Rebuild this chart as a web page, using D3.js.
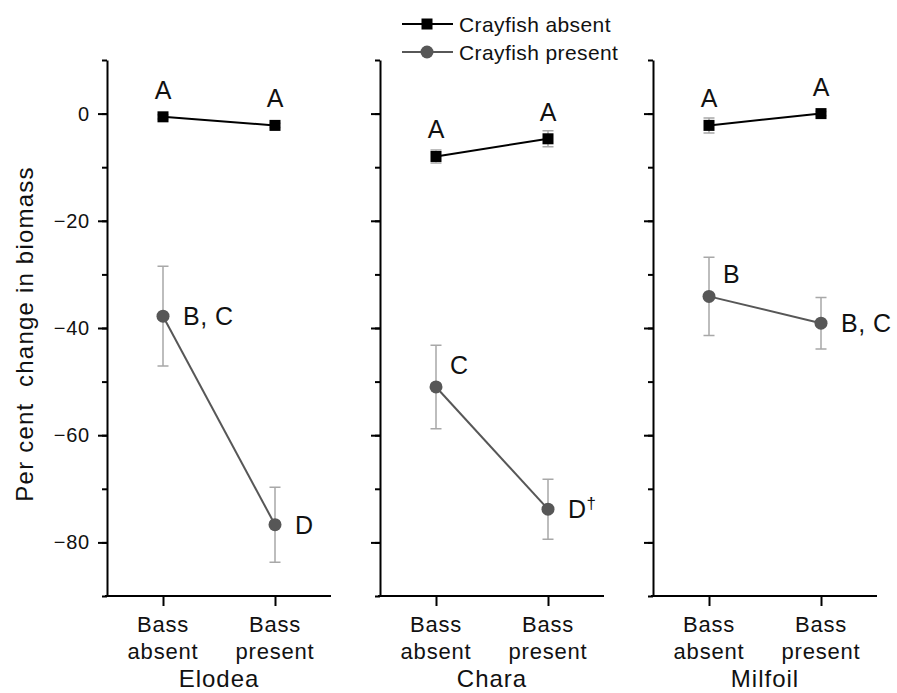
<!DOCTYPE html>
<html>
<head>
<meta charset="utf-8">
<script src="https://cdn.jsdelivr.net/npm/d3@7"></script>
<style>
  body { margin: 0; background: #fff; }
  text { font-family: "Liberation Sans", Arial, sans-serif; fill: #111; }
</style>
</head>
<body>
<div id="chart"></div>
<script>
const plants = ['Elodea', 'Chara', 'Milfoil'];
const bassLevels = ['Bass absent', 'Bass present'];
const seriesNames = ['Crayfish absent', 'Crayfish present'];

// mean and standard error, one row per plant, [bass absent, bass present]
const absentMean = [[-0.6, -2.2], [-8.0, -4.7], [-2.2, 0.0]];
const absentErr = [[0.4, 0.4], [1.2, 1.5], [1.4, 0.4]];
const presentMean = [[-37.8, -76.7], [-51.0, -73.8], [-34.1, -39.1]];
const presentErr = [[9.3, 7.0], [7.8, 5.6], [7.3, 4.8]];

const absentLabels = [['A', 'A'], ['A', 'A'], ['A', 'A']];
const presentLabels = [['B, C', 'D'], ['C', 'D†'], ['B', 'B, C']];
const presentLabelSide = [['right', 'right'], ['above', 'right'], ['above', 'right']];

const yTicks = d3.range(-90, 11, 10);
const yLabelTicks = [-80, -60, -40, -20, 0];

const width = 897, height = 693;
const panelW = 224, gap = 49, left0 = 107;
const plotTop = 60, plotBottom = 596;

const svg = d3.select('#chart').append('svg')
  .attr('width', width)
  .attr('height', height);

const y = d3.scaleLinear().domain([-90, 10]).range([plotBottom, plotTop]);

const colAbsent = '#000';
const colPresent = '#575757';
const colErr = '#a8a8a8';

plants.forEach((plant, p) => {
  let x0 = left0 + p * (panelW + gap);
  let x = d3.scalePoint().domain(bassLevels).range([x0, x0 + panelW]).padding(0.5);

  let g = svg.append('g');

  // minor ticks
  g.append('g')
    .attr('transform', `translate(${x0},0)`)
    .call(d3.axisLeft(y).tickValues(yTicks).tickSize(5).tickSizeOuter(0).tickFormat(''))
    .call(a => a.selectAll('path, line').attr('stroke', '#000').attr('stroke-width', 2));

  // major ticks + labels on first panel
  let major = g.append('g')
    .attr('transform', `translate(${x0},0)`)
    .call(d3.axisLeft(y).tickValues(yLabelTicks).tickSize(9).tickSizeOuter(0)
      .tickFormat(p === 0 ? d3.format('d') : ''));
  major.select('.domain').remove();
  major.selectAll('line').attr('stroke', '#000').attr('stroke-width', 2);
  major.selectAll('text')
    .attr('font-size', 20)
    .attr('font-family', '"Liberation Sans", Arial, sans-serif')
    .attr('letter-spacing', 0.8)
    .attr('fill', '#111')
    .attr('x', -17);

  // x axis
  let xa = g.append('g')
    .attr('transform', `translate(0,${plotBottom})`)
    .call(d3.axisBottom(x).tickSize(10).tickSizeOuter(0).tickFormat(''));
  xa.select('.domain').attr('d', `M${x0 - 2},0H${x0 + panelW}`);
  xa.selectAll('path, line').attr('stroke', '#000').attr('stroke-width', 2);

  bassLevels.forEach(b => {
    let words = b.split(' ');
    let t = g.append('text')
      .attr('text-anchor', 'middle')
      .attr('letter-spacing', 0.8)
      .attr('font-size', 22);
    t.append('tspan').attr('x', x(b)).attr('y', 632).text(words[0]);
    t.append('tspan').attr('x', x(b)).attr('y', 659).text(words[1]);
  });

  g.append('text')
    .attr('x', x0 + panelW / 2)
    .attr('y', 687)
    .attr('text-anchor', 'middle')
    .attr('letter-spacing', 1)
    .attr('font-size', 24)
    .text(plant);

  let abs = bassLevels.map((b, i) => ({ b, m: absentMean[p][i], e: absentErr[p][i], lab: absentLabels[p][i] }));
  let pre = bassLevels.map((b, i) => ({ b, m: presentMean[p][i], e: presentErr[p][i], lab: presentLabels[p][i], side: presentLabelSide[p][i] }));

  const line = d3.line().x(d => x(d.b)).y(d => y(d.m));

  // error bars
  [abs, pre].forEach(series => {
    series.forEach(d => {
      let cx = x(d.b);
      g.append('path')
        .attr('d', `M${cx},${y(d.m + d.e)}V${y(d.m - d.e)}M${cx - 5.5},${y(d.m + d.e)}h11M${cx - 5.5},${y(d.m - d.e)}h11`)
        .attr('stroke', colErr)
        .attr('stroke-width', 1.5)
        .attr('fill', 'none');
    });
  });

  g.append('path').datum(abs)
    .attr('d', line)
    .attr('fill', 'none')
    .attr('stroke', colAbsent)
    .attr('stroke-width', 2);

  g.append('path').datum(pre)
    .attr('d', line)
    .attr('fill', 'none')
    .attr('stroke', colPresent)
    .attr('stroke-width', 2);

  g.selectAll('.sq').data(abs).join('rect')
    .attr('x', d => x(d.b) - 5.5)
    .attr('y', d => y(d.m) - 5.5)
    .attr('width', 11)
    .attr('height', 11)
    .attr('fill', colAbsent);

  g.selectAll('.ci').data(pre).join('circle')
    .attr('cx', d => x(d.b))
    .attr('cy', d => y(d.m))
    .attr('r', 6.5)
    .attr('fill', colPresent);

  g.selectAll('.la').data(abs).join('text')
    .attr('x', d => x(d.b))
    .attr('y', d => y(d.m) - 18)
    .attr('text-anchor', 'middle')
    .attr('font-size', 25)
    .text(d => d.lab);

  pre.forEach(d => {
    let above = d.side === 'above';
    let t = g.append('text')
      .attr('x', x(d.b) + (above ? 14 : 20))
      .attr('y', y(d.m) + (above ? -22 : 0))
      .attr('dy', '0.36em')
      .attr('letter-spacing', 0.5)
      .attr('font-size', 25);
    let parts = d.lab.split('†');
    t.append('tspan').text(parts[0]);
    if (parts.length > 1) {
      t.append('tspan').attr('dy', -9).attr('font-size', 17).text('†');
    }
  });
});

// y axis title
svg.append('text')
  .attr('transform', 'translate(33,334) rotate(-90)')
  .attr('text-anchor', 'middle')
  .attr('font-size', 24)
  .attr('letter-spacing', 1.2)
  .attr('xml:space', 'preserve')
  .style('white-space', 'pre')
  .text('Per cent  change in biomass');

// legend
const legend = svg.append('g');
seriesNames.forEach((s, i) => {
  let ly = 24 + i * 28;
  let col = i === 0 ? colAbsent : colPresent;
  legend.append('line')
    .attr('x1', 402).attr('x2', 453)
    .attr('y1', ly).attr('y2', ly)
    .attr('stroke', col).attr('stroke-width', 2);
  if (i === 0) {
    legend.append('rect')
      .attr('x', 427 - 5.5).attr('y', ly - 5.5)
      .attr('width', 11).attr('height', 11)
      .attr('fill', col);
  } else {
    legend.append('circle')
      .attr('cx', 427).attr('cy', ly).attr('r', 6.5)
      .attr('fill', col);
  }
  legend.append('text')
    .attr('x', 459).attr('y', ly)
    .attr('dy', '0.36em')
    .attr('font-size', 21)
    .attr('letter-spacing', 0.4)
    .text(s);
});
</script>
</body>
</html>
